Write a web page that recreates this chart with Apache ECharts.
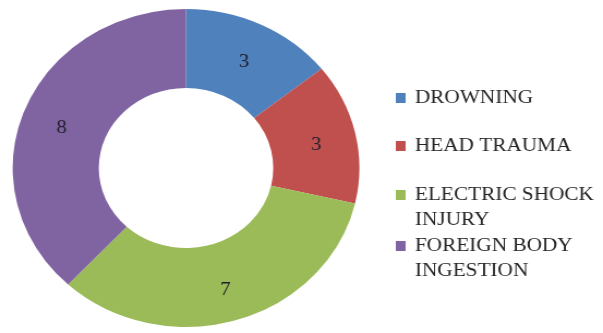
<!DOCTYPE html>
<html>
<head>
<meta charset="utf-8">
<script src="https://cdn.jsdelivr.net/npm/echarts@6/dist/echarts.min.js"></script>
<style>
  html, body { margin: 0; padding: 0; background: #fff; }
  #wrap { width: 603px; height: 333px; overflow: hidden; }
  /* the chart is drawn slightly wider than tall */
  #chart { width: 553px; height: 333px; transform: scaleX(1.0904); transform-origin: 0 0; }
</style>
</head>
<body>
<div id="wrap"><div id="chart"></div></div>
<script>
const categories = ['DROWNING', 'HEAD TRAUMA', 'ELECTRIC SHOCK INJURY', 'FOREIGN BODY INGESTION'];
const legendLines = [['DROWNING'], ['HEAD TRAUMA'], ['ELECTRIC SHOCK', 'INJURY'], ['FOREIGN BODY', 'INGESTION']];
const counts = [3, 3, 7, 8];
const colors = ['#4F81BD', '#C0504D', '#9BBB59', '#8064A2'];

const FONT = '"Liberation Serif", "DejaVu Serif", serif';
const LINE_H = 25;
const legendTops = [85.5, 133.5, 157.5, 208.5];

const chart = echarts.init(document.getElementById('chart'), null, { renderer: 'canvas' });

// Wrapped entries get a blank leading line so the first text line sits beside the swatch.
function legendText(lines) {
  const rows = lines.map(l => '{t|' + l + '}');
  if (lines.length > 1) rows.unshift('{t|\u00a0}');
  return rows.join('\n');
}

const legends = categories.map((name, i) => ({
  data: [name],
  left: 363,
  top: legendTops[i],
  padding: 0,
  orient: 'vertical',
  icon: 'rect',
  itemWidth: 9,
  itemHeight: 10,
  selectedMode: false,
  formatter: () => legendText(legendLines[i]),
  textStyle: {
    fontFamily: FONT,
    fontSize: 19.5,
    color: '#262626',
    lineHeight: LINE_H,
    rich: {
      t: {
        fontFamily: FONT,
        fontSize: 19.5,
        color: '#262626',
        lineHeight: LINE_H,
        padding: [0, 0, 0, 3.5]
      }
    }
  }
}));

chart.setOption({
  animation: false,
  color: colors,
  legend: legends,
  series: [{
    type: 'pie',
    center: [170.6, 168],
    radius: [80, 159],
    startAngle: 90,
    clockwise: true,
    avoidLabelOverlap: false,
    label: {
      show: true,
      position: 'inside',
      // a short spacer line above the value nudges it a little below the ring's mid-line
      formatter: '{s|\u00a0}\n{v|{c}}',
      rich: {
        s: { fontSize: 8, lineHeight: 9 },
        v: { fontFamily: FONT, fontSize: 19, lineHeight: 22, color: '#1f1f2a' }
      }
    },
    labelLine: { show: false },
    emphasis: { disabled: true },
    itemStyle: { borderWidth: 0 },
    data: categories.map((name, i) => ({ name: name, value: counts[i] }))
  }]
});
</script>
</body>
</html>
